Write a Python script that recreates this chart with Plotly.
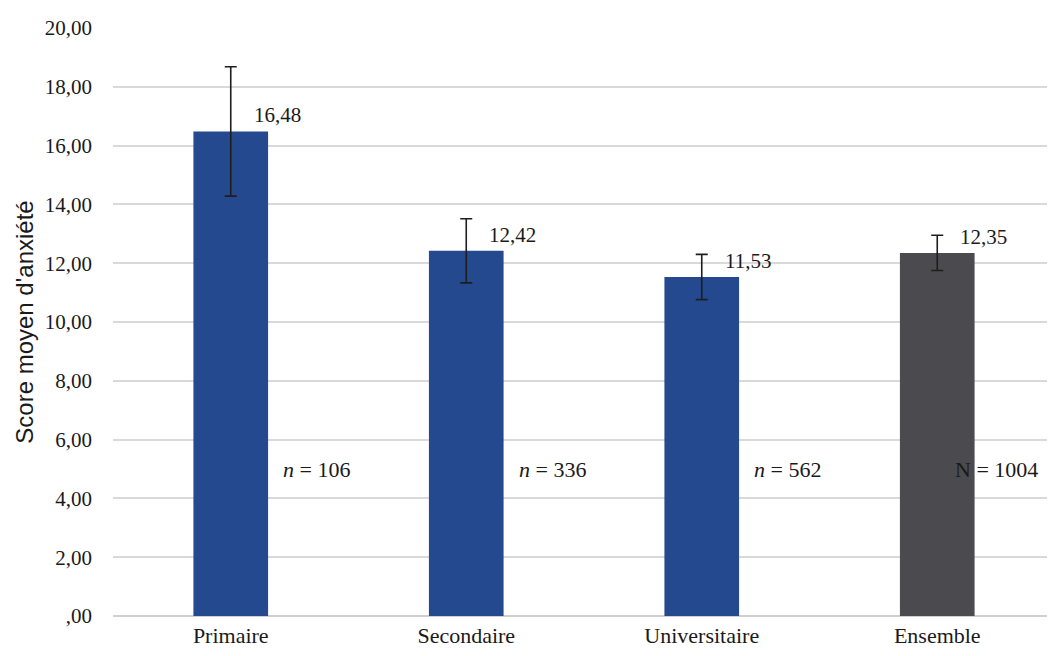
import plotly.graph_objects as go

categories = ["Primaire", "Secondaire", "Universitaire", "Ensemble"]
means = [16.48, 12.42, 11.53, 12.35]
errors = [2.2, 1.09, 0.77, 0.6]
value_labels = ["16,48", "12,42", "11,53", "12,35"]
n_labels = ["<i>n</i> = 106", "<i>n</i> = 336", "<i>n</i> = 562", "N = 1004"]
n_offsets = [0.215, 0.215, 0.215, 0.065]
bar_colors = ["#24498f", "#24498f", "#24498f", "#4b4a4e"]
tick_vals = [0, 2, 4, 6, 8, 10, 12, 14, 16, 18, 20]
tick_text = [",00", "2,00", "4,00", "6,00", "8,00", "10,00", "12,00", "14,00", "16,00", "18,00", "20,00"]

serif = "Liberation Serif, Times New Roman, serif"
x_idx = list(range(len(categories)))

fig = go.Figure()
fig.add_trace(go.Bar(
    x=x_idx, y=means,
    marker=dict(color=bar_colors, line=dict(width=0)),
    width=0.317,
    error_y=dict(type="data", array=errors, visible=True,
                 color="#1e1e1e", thickness=1.6, width=6),
    showlegend=False, hoverinfo="skip",
))

for i, (m, lab) in enumerate(zip(means, value_labels)):
    fig.add_annotation(x=i + 0.09, y=m + 0.55, text=lab, showarrow=False,
                       xanchor="left", yanchor="middle",
                       font=dict(family=serif, size=21, color="#1a1a1a"))

for i, lab in enumerate(n_labels):
    fig.add_annotation(x=i + n_offsets[i], y=5, text=lab, showarrow=False,
                       xanchor="left", yanchor="middle",
                       font=dict(family=serif, size=22, color="#1a1a1a"))

fig.update_layout(
    width=1055, height=656,
    margin=dict(l=105, r=8, t=13, b=48),
    paper_bgcolor="white", plot_bgcolor="white",
    xaxis=dict(
        range=[-0.5, 3.5], tickvals=x_idx, ticktext=categories,
        showgrid=False, zeroline=False, showline=False, ticks="",
        tickfont=dict(family=serif, size=22, color="#1a1a1a"),
        ticklabelstandoff=4,
    ),
    yaxis=dict(
        range=[0, 20], tickvals=tick_vals, ticktext=tick_text,
        showgrid=True, gridcolor="#d9d9d9", gridwidth=1.5,
        zeroline=True, zerolinecolor="#d0d0d0", zerolinewidth=1.5,
        showline=False, ticks="",
        tickfont=dict(family=serif, size=21, color="#1a1a1a"),
        ticklabelstandoff=20,
        title=dict(text="Score moyen d'anxiété", standoff=4,
                   font=dict(family="Liberation Sans, Arial, sans-serif", size=24, color="#1a1a1a")),
    ),
)

fig.write_html("out.html")
